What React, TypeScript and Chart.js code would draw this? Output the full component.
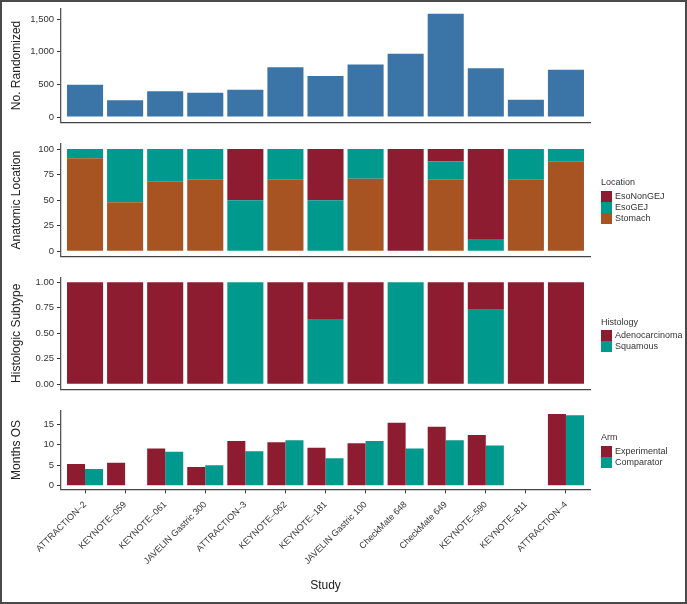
import React, { useEffect, useRef } from "react";
import { Chart, registerables } from "chart.js";

Chart.register(...registerables);

const FONT = "'Liberation Sans', Arial, Helvetica, sans-serif";

// ---------- data ----------
const studies = [
  "ATTRACTION–2",
  "KEYNOTE–059",
  "KEYNOTE–061",
  "JAVELIN Gastric 300",
  "ATTRACTION–3",
  "KEYNOTE–062",
  "KEYNOTE–181",
  "JAVELIN Gastric 100",
  "CheckMate 648",
  "CheckMate 649",
  "KEYNOTE–590",
  "KEYNOTE–811",
  "ATTRACTION–4",
];

const randomized = [493, 259, 395, 371, 419, 763, 628, 805, 970, 1581, 749, 264, 724];

const locEsoNonGEJ = [0, 0, 0, 0, 50, 0, 50, 0, 100, 12, 88, 0, 0];
const locEsoGEJ = [9, 52, 32, 30, 50, 30, 50, 29, 0, 18, 12, 30, 12];
const locStomach = [91, 48, 68, 70, 0, 70, 0, 71, 0, 70, 0, 70, 88];

const histAdeno = [1, 1, 1, 1, 0, 1, 0.36, 1, 0, 1, 0.27, 1, 1];
const histSquamous = [0, 0, 0, 0, 1, 0, 0.64, 0, 1, 0, 0.73, 0, 0];

const osExperimental = [5.3, 5.6, 9.1, 4.6, 10.9, 10.6, 9.3, 10.4, 15.4, 14.4, 12.4, null, 17.5];
const osComparator = [4.1, null, 8.3, 5.0, 8.4, 11.1, 6.7, 10.9, 9.1, 11.1, 9.8, null, 17.2];

const ticksRandomized = [0, 500, 1000, 1500];
const ticksLocation = [0, 25, 50, 75, 100];
const ticksHistology = [0, 0.25, 0.5, 0.75, 1];
const ticksOS = [0, 5, 10, 15];

const locationLabels = ["EsoNonGEJ", "EsoGEJ", "Stomach"];
const histologyLabels = ["Adenocarcinoma", "Squamous"];
const armLabels = ["Experimental", "Comparator"];

// ---------- styles ----------
const BLUE = "#3b75a7";
const RED = "#8e1c30";
const TEAL = "#00998e";
const BROWN = "#a85422";

const toXY = (arr: (number | null)[]) => arr.map((v, i) => ({ x: i, y: v }));

type PanelProps = {
  top: number;
  height: number;
  padTop: number;
  xHeight: number;
  datasets: any[];
  yMin: number;
  yMax: number;
  yTicks: number[];
  yFormat: (v: number) => string;
  yTitle: string;
  showX: boolean;
  stacked: boolean;
};

function Panel(p: PanelProps) {
  const ref = useRef<HTMLCanvasElement>(null);
  useEffect(() => {
    const chart = new Chart(ref.current as HTMLCanvasElement, {
      type: "bar",
      data: { datasets: p.datasets },
      options: {
        animation: false,
        responsive: false,
        maintainAspectRatio: false,
        layout: { padding: { top: p.padTop, left: 0, right: 97, bottom: 0 } },
        plugins: { legend: { display: false }, tooltip: { enabled: false } },
        datasets: { bar: { categoryPercentage: 0.9, barPercentage: 1 } },
        scales: {
          x: {
            type: "linear",
            min: -0.6,
            max: 12.6,
            stacked: p.stacked,
            offset: false,
            afterBuildTicks: (s: any) => {
              s.ticks = studies.map((_, i) => ({ value: i }));
            },
            afterFit: (s: any) => {
              s.height = p.xHeight;
            },
            grid: {
              display: p.showX,
              offset: false,
              drawOnChartArea: false,
              drawTicks: true,
              tickLength: 4,
              color: "#333",
            },
            border: { display: true, color: "#444", width: 1.3 },
            ticks: {
              display: p.showX,
              autoSkip: false,
              minRotation: 45,
              maxRotation: 45,
              padding: 6,
              font: { size: 9, family: FONT },
              color: "#333",
              callback: (v: any) => studies[v as number],
            },
            title: {
              display: p.showX,
              text: "Study",
              font: { size: 12, family: FONT },
              color: "#222",
              padding: { top: 0, bottom: 10.8 },
            },
          } as any,
          y: {
            type: "linear",
            min: p.yMin,
            max: p.yMax,
            stacked: p.stacked,
            afterBuildTicks: (s: any) => {
              s.ticks = p.yTicks.map((v) => ({ value: v }));
            },
            afterFit: (s: any) => {
              s.width = 61;
            },
            grid: {
              offset: false,
              drawOnChartArea: false,
              drawTicks: true,
              tickLength: 4,
              color: "#333",
            },
            border: { display: true, color: "#555", width: 1.3 },
            ticks: {
              padding: 3,
              font: { size: 9.5, family: FONT },
              color: "#333",
              callback: (v: any) => p.yFormat(v as number),
            },
            title: {
              display: true,
              text: p.yTitle,
              font: { size: 12, family: FONT },
              color: "#222",
              padding: { top: 9.8, bottom: 0 },
            },
          } as any,
        },
      },
    });
    return () => chart.destroy();
  }, []);
  return (
    <canvas
      ref={ref}
      width={687}
      height={p.height}
      style={{ position: "absolute", left: 0, top: p.top, width: 687, height: p.height }}
    />
  );
}

function Legend({
  titleCenter,
  swatchTop,
  title,
  labels,
  colors,
}: {
  titleCenter: number;
  swatchTop: number;
  title: string;
  labels: string[];
  colors: string[];
}) {
  return (
    <div
      style={{
        position: "absolute",
        left: 601,
        top: titleCenter - 6,
        fontFamily: FONT,
        fontSize: 9,
        color: "#333",
      }}
    >
      <div style={{ height: swatchTop - (titleCenter - 6), lineHeight: "12px" }}>{title}</div>
      {labels.map((l, i) => (
        <div key={l} style={{ display: "flex", alignItems: "center", height: 11 }}>
          <span style={{ display: "inline-block", width: 11, height: 11, background: colors[i] }} />
          <span style={{ marginLeft: 3, lineHeight: "11px" }}>{l}</span>
        </div>
      ))}
    </div>
  );
}

export default function App() {
  return (
    <div
      style={{
        position: "absolute",
        left: 0,
        top: 0,
        width: 687,
        height: 604,
        background: "#fff",
        overflow: "hidden",
      }}
    >
      <Panel
        top={0}
        height={132}
        padTop={8.4}
        xHeight={9.8}
        datasets={[{ data: toXY(randomized), backgroundColor: BLUE, borderWidth: 0 }]}
        yMin={-79}
        yMax={1660}
        yTicks={ticksRandomized}
        yFormat={(v) => v.toLocaleString("en-US")}
        yTitle="No. Randomized"
        showX={false}
        stacked={false}
      />
      <Panel
        top={132}
        height={134}
        padTop={11.9}
        xHeight={9.6}
        datasets={[
          { label: "Stomach", data: toXY(locStomach), backgroundColor: BROWN, borderWidth: 0 },
          { label: "EsoGEJ", data: toXY(locEsoGEJ), backgroundColor: TEAL, borderWidth: 0 },
          { label: "EsoNonGEJ", data: toXY(locEsoNonGEJ), backgroundColor: RED, borderWidth: 0 },
        ]}
        yMin={-5}
        yMax={105}
        yTicks={ticksLocation}
        yFormat={(v) => String(v)}
        yTitle="Anatomic Location"
        showX={false}
        stacked={true}
      />
      <Panel
        top={266}
        height={132}
        padTop={11.2}
        xHeight={7.5}
        datasets={[
          { label: "Squamous", data: toXY(histSquamous), backgroundColor: TEAL, borderWidth: 0 },
          { label: "Adenocarcinoma", data: toXY(histAdeno), backgroundColor: RED, borderWidth: 0 },
        ]}
        yMin={-0.05}
        yMax={1.05}
        yTicks={ticksHistology}
        yFormat={(v) => v.toFixed(2)}
        yTitle="Histologic Subtype"
        showX={false}
        stacked={true}
      />
      <Panel
        top={398}
        height={206}
        padTop={12.6}
        xHeight={114.7}
        datasets={[
          { label: "Experimental", data: toXY(osExperimental), backgroundColor: RED, borderWidth: 0 },
          { label: "Comparator", data: toXY(osComparator), backgroundColor: TEAL, borderWidth: 0 },
        ]}
        yMin={-0.875}
        yMax={18.35}
        yTicks={ticksOS}
        yFormat={(v) => String(v)}
        yTitle="Months OS"
        showX={true}
        stacked={false}
      />
      <Legend
        titleCenter={182.3}
        swatchTop={191}
        title="Location"
        labels={locationLabels}
        colors={[RED, TEAL, BROWN]}
      />
      <Legend
        titleCenter={321.7}
        swatchTop={330}
        title="Histology"
        labels={histologyLabels}
        colors={[RED, TEAL]}
      />
      <Legend
        titleCenter={437.3}
        swatchTop={446}
        title="Arm"
        labels={armLabels}
        colors={[RED, TEAL]}
      />
      <div
        style={{
          position: "absolute",
          inset: 0,
          border: "2px solid #4a4a4a",
          boxSizing: "border-box",
          pointerEvents: "none",
        }}
      />
    </div>
  );
}
